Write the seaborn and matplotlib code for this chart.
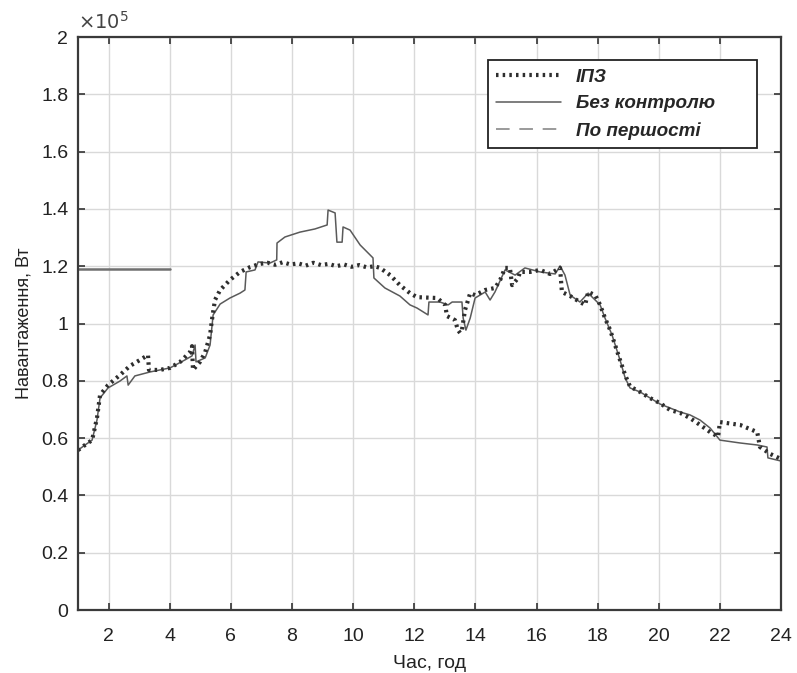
import numpy as np
import pandas as pd
import matplotlib
matplotlib.use("Agg")
import matplotlib.pyplot as plt
from matplotlib.lines import Line2D
import seaborn as sns

# Load profile, in units of 1e5 W
ipz_hours = [1.00, 1.23, 1.46, 1.62, 1.72, 1.98, 2.37, 2.70, 3.03, 3.29, 3.32, 3.68, 4.01,
             4.34, 4.66, 4.73, 4.76, 4.99, 5.16, 5.32, 5.38, 5.48, 5.65, 5.97, 6.30, 6.63,
             6.95, 7.20, 7.45, 7.70, 7.95, 8.20, 8.45, 8.70, 8.95, 9.20, 9.45, 9.70, 9.95,
             10.20, 10.45, 10.70, 10.88, 11.21, 11.53, 11.86, 12.09, 12.75, 13.01, 13.07,
             13.33, 13.43, 13.50, 13.56, 13.66, 13.83, 13.99, 14.32, 14.64, 14.81, 14.97,
             15.13, 15.20, 15.40, 15.46, 15.79, 16.12, 16.44, 16.77, 16.83, 17.10, 17.42,
             17.59, 17.69, 17.92, 18.08, 18.24, 18.41, 18.57, 18.73, 18.90, 19.06, 19.39,
             19.71, 20.04, 20.37, 20.70, 21.02, 21.35, 21.68, 21.94, 22.00, 22.66, 23.22,
             23.31, 23.64, 24.00]
ipz_load = [0.558, 0.576, 0.593, 0.670, 0.750, 0.785, 0.820, 0.852, 0.873, 0.890, 0.838,
            0.838, 0.845, 0.866, 0.900, 0.921, 0.838, 0.866, 0.900, 0.960, 1.012, 1.082,
            1.117, 1.152, 1.180, 1.197, 1.208, 1.212, 1.205, 1.214, 1.206, 1.210, 1.202,
            1.212, 1.204, 1.208, 1.200, 1.206, 1.198, 1.204, 1.196, 1.200, 1.194, 1.169,
            1.134, 1.106, 1.092, 1.089, 1.065, 1.026, 1.012, 0.977, 0.967, 0.977, 1.047,
            1.106, 1.099, 1.117, 1.124, 1.152, 1.194, 1.194, 1.134, 1.159, 1.180, 1.180,
            1.187, 1.173, 1.194, 1.110, 1.096, 1.075, 1.065, 1.110, 1.099, 1.065, 1.019,
            0.977, 0.925, 0.873, 0.820, 0.780, 0.761, 0.740, 0.722, 0.698, 0.688, 0.670,
            0.646, 0.621, 0.605, 0.656, 0.646, 0.621, 0.569, 0.545, 0.527]

free_hours = [1.00, 1.23, 1.46, 1.62, 1.72, 1.98, 2.37, 2.60, 2.64, 2.86, 3.36, 4.01, 4.50,
              4.73, 4.83, 4.86, 5.16, 5.32, 5.42, 5.65, 5.97, 6.30, 6.46, 6.50, 6.79, 6.89,
              7.28, 7.50, 7.51, 7.77, 8.26, 8.75, 9.15, 9.18, 9.41, 9.47, 9.64, 9.67, 9.90,
              10.23, 10.65, 10.68, 11.04, 11.53, 11.86, 12.09, 12.45, 12.48, 12.84, 13.11,
              13.24, 13.56, 13.60, 13.69, 13.83, 13.99, 14.32, 14.48, 14.64, 14.97, 15.30,
              15.62, 16.12, 16.61, 16.77, 16.93, 17.10, 17.42, 17.69, 18.08, 18.24, 18.47,
              18.73, 18.90, 19.06, 19.39, 20.04, 20.70, 21.02, 21.35, 21.68, 22.00, 22.66,
              23.22, 23.54, 23.57, 24.00]
free_load = [0.558, 0.576, 0.593, 0.663, 0.740, 0.775, 0.799, 0.817, 0.785, 0.817, 0.831,
             0.845, 0.873, 0.887, 0.925, 0.866, 0.880, 0.925, 1.030, 1.068, 1.089, 1.106,
             1.117, 1.180, 1.187, 1.215, 1.211, 1.222, 1.281, 1.302, 1.319, 1.330, 1.344,
             1.396, 1.386, 1.284, 1.284, 1.337, 1.326, 1.274, 1.229, 1.159, 1.124, 1.096,
             1.065, 1.054, 1.030, 1.075, 1.075, 1.065, 1.075, 1.075, 1.019, 0.977, 1.019,
             1.089, 1.110, 1.082, 1.110, 1.187, 1.169, 1.194, 1.180, 1.173, 1.201, 1.169,
             1.099, 1.075, 1.106, 1.065, 1.019, 0.960, 0.873, 0.810, 0.775, 0.761, 0.719,
             0.691, 0.681, 0.663, 0.635, 0.593, 0.583, 0.576, 0.569, 0.531, 0.520]

prio_hours = [1.0, 4.0]
prio_load = [1.19, 1.19]

series_names = ["ІПЗ", "Без контролю", "По першості"]
x_ticks = [2, 4, 6, 8, 10, 12, 14, 16, 18, 20, 22, 24]
y_ticks = [0, 0.2, 0.4, 0.6, 0.8, 1.0, 1.2, 1.4, 1.6, 1.8, 2.0]

sns.set_theme(style="white")
plt.rcParams["font.family"] = ["Liberation Sans Narrow", "Liberation Sans", "DejaVu Sans"]

fig = plt.figure(figsize=(7.97, 6.73), dpi=100)
ax = fig.add_axes([0.0979, 0.0936, 0.8821, 0.8514])

df_free = pd.DataFrame({"t": free_hours, "p": free_load})
df_ipz = pd.DataFrame({"t": ipz_hours, "p": ipz_load})
df_prio = pd.DataFrame({"t": prio_hours, "p": prio_load})

sns.lineplot(data=df_prio, x="t", y="p", ax=ax, sort=False, estimator=None,
             color="#707070", lw=1.8)
sns.lineplot(data=df_free, x="t", y="p", ax=ax, sort=False, estimator=None,
             color="#5a5a5a", lw=1.1)
sns.lineplot(data=df_ipz, x="t", y="p", ax=ax, sort=False, estimator=None,
             color="#2e2e2e", lw=3.0, linestyle=(0, (0.6, 1.0)))

ax.set_xlim(1, 24)
ax.set_ylim(0, 2)
ax.set_xticks(x_ticks)
ax.set_yticks(y_ticks)
ax.set_xticklabels([str(v) for v in x_ticks])
ax.set_yticklabels([f"{v:g}" for v in y_ticks])
ax.tick_params(axis="both", direction="in", length=5, width=1.2, color="#333333",
               labelsize=14, labelcolor="#222222", top=True, right=True,
               bottom=True, left=True, pad=7)
ax.tick_params(axis="x", pad=13)
ax.grid(True, color="#d9d9d9", lw=1.0)
for s in ax.spines.values():
    s.set_color("#3a3a3a")
    s.set_linewidth(1.6)

ax.set_xlabel("Час, год", fontsize=14, color="#222222", labelpad=7)
ax.set_ylabel("Навантаження, Вт", fontsize=13, color="#222222", labelpad=6,
              family=["Liberation Sans", "DejaVu Sans"])
ax.text(0.0, 1.008, r"$\times10^5$", transform=ax.transAxes, fontsize=14,
        color="#444444", ha="left", va="bottom", family="DejaVu Sans")

handles = [
    Line2D([], [], color="#2e2e2e", lw=3.0, linestyle=(0, (0.6, 1.0))),
    Line2D([], [], color="#5a5a5a", lw=1.1),
    Line2D([], [], color="#9a9a9a", lw=1.4, linestyle=(0, (7, 5))),
]
# Legend box stretched to a fixed width, entries kept left-aligned
leg = ax.legend(handles, series_names, loc="upper left", mode="expand",
                bbox_to_anchor=(0.583, 0.5, 0.383, 0.46), borderaxespad=0.0,
                handlelength=3.4, handletextpad=0.8,
                labelspacing=0.5, borderpad=0.45, fancybox=False, framealpha=1,
                edgecolor="#222222",
                prop={"family": ["Liberation Sans", "DejaVu Sans"], "weight": "bold",
                      "style": "italic", "size": 13.6})
leg.get_frame().set_linewidth(1.3)

fig.savefig("out.png", dpi=100, facecolor="white")
